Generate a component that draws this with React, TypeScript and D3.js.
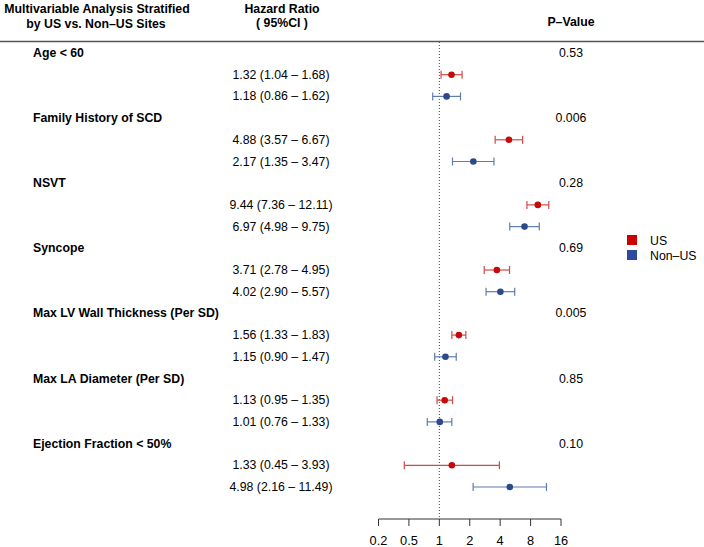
import React from "react";
import * as d3 from "d3";

const categories = [
  "Age < 60",
  "Family History of SCD",
  "NSVT",
  "Syncope",
  "Max LV Wall Thickness (Per SD)",
  "Max LA Diameter (Per SD)",
  "Ejection Fraction < 50%",
];
const pValues = ["0.53", "0.006", "0.28", "0.69", "0.005", "0.85", "0.10"];
const usHR = [1.32, 4.88, 9.44, 3.71, 1.56, 1.13, 1.33];
const usLow = [1.04, 3.57, 7.36, 2.78, 1.33, 0.95, 0.45];
const usHigh = [1.68, 6.67, 12.11, 4.95, 1.83, 1.35, 3.93];
const nonHR = [1.18, 2.17, 6.97, 4.02, 1.15, 1.01, 4.98];
const nonLow = [0.86, 1.35, 4.98, 2.9, 0.9, 0.76, 2.16];
const nonHigh = [1.62, 3.47, 9.75, 5.57, 1.47, 1.33, 11.49];
const tickValues = [0.25, 0.5, 1, 2, 4, 8, 16];
const tickLabels = ["0.2", "0.5", "1", "2", "4", "8", "16"];
const seriesNames = ["US", "Non\u2013US"];

const FONT = "'Liberation Sans', Arial, Helvetica, sans-serif";
const FS = 12.3;
const RED_PT = "#C40A0A";
const RED_LN = "#D24A4A";
const BLUE_PT = "#2C4A8A";
const BLUE_LN = "#5F7CAE";

const fmt = (v: number) => v.toFixed(2);

export default function App() {
  const W = 704;
  const H = 547;
  const x = d3.scaleLog().base(2).domain([0.25, 16]).range([378.5, 561]);
  const y = d3.scaleLinear().domain([0, 20]).range([53, 487]);
  const axisY = 519;
  const hrX = 281;
  const pX = 571;

  const rows: any[] = [];
  categories.forEach((c, i) => {
    rows.push({ type: "cat", label: c, p: pValues[i], r: 3 * i });
    rows.push({ type: "us", hr: usHR[i], lo: usLow[i], hi: usHigh[i], r: 3 * i + 1 });
    rows.push({ type: "non", hr: nonHR[i], lo: nonLow[i], hi: nonHigh[i], r: 3 * i + 2 });
  });

  return (
    <svg
      width={W}
      height={H}
      style={{ position: "absolute", left: 0, top: 0, background: "#fff" }}
      fontFamily={FONT}
    >
      {/* header */}
      <text x={97} y={13} fontSize={FS} fontWeight="bold" textAnchor="middle">
        Multivariable Analysis Stratified
      </text>
      <text x={96} y={28} fontSize={FS} fontWeight="bold" textAnchor="middle">
        by US vs. Non–US Sites
      </text>
      <text x={282} y={13} fontSize={FS} fontWeight="bold" textAnchor="middle">
        Hazard Ratio
      </text>
      <text x={282} y={27} fontSize={FS} fontWeight="bold" textAnchor="middle">
        ( 95%CI )
      </text>
      <text x={pX} y={26} fontSize={FS} fontWeight="bold" textAnchor="middle">
        P–Value
      </text>
      <line x1={0} x2={W} y1={41.5} y2={41.5} stroke="#555" strokeWidth={1.5} />

      {/* reference line */}
      <line
        x1={x(1)}
        x2={x(1)}
        y1={42}
        y2={axisY}
        stroke="#444"
        strokeWidth={1}
        strokeDasharray="1,2"
      />

      {rows.map((row, k) => {
        const cy = y(row.r);
        if (row.type === "cat") {
          return (
            <g key={k}>
              <text x={33} y={cy + 4} fontSize={FS} fontWeight="bold">
                {row.label}
              </text>
              <text x={pX} y={cy + 4} fontSize={FS} textAnchor="middle">
                {row.p}
              </text>
            </g>
          );
        }
        const ln = row.type === "us" ? RED_LN : BLUE_LN;
        const pt = row.type === "us" ? RED_PT : BLUE_PT;
        return (
          <g key={k}>
            <text x={hrX} y={cy + 4} fontSize={FS} textAnchor="middle">
              {`${fmt(row.hr)} (${fmt(row.lo)} – ${fmt(row.hi)})`}
            </text>
            <line x1={x(row.lo)} x2={x(row.hi)} y1={cy} y2={cy} stroke={ln} strokeWidth={1.2} />
            <line x1={x(row.lo)} x2={x(row.lo)} y1={cy - 4} y2={cy + 4} stroke={ln} strokeWidth={1.2} />
            <line x1={x(row.hi)} x2={x(row.hi)} y1={cy - 4} y2={cy + 4} stroke={ln} strokeWidth={1.2} />
            <circle cx={x(row.hr)} cy={cy} r={3.3} fill={pt} />
          </g>
        );
      })}

      {/* axis */}
      <line x1={x(0.25)} x2={x(16)} y1={axisY} y2={axisY} stroke="#333" strokeWidth={1} />
      {tickValues.map((t, i) => (
        <g key={t}>
          <line x1={x(t)} x2={x(t)} y1={axisY} y2={axisY + 7} stroke="#333" strokeWidth={1} />
          <text x={x(t)} y={axisY + 26} fontSize={12.8} textAnchor="middle">
            {tickLabels[i]}
          </text>
        </g>
      ))}

      {/* legend */}
      {seriesNames.map((s, i) => (
        <g key={s}>
          <rect x={627} y={235 + i * 15} width={10} height={10} fill={i === 0 ? "#CC0000" : "#2E4A9E"} />
          <text x={650} y={245 + i * 15} fontSize={FS}>
            {s}
          </text>
        </g>
      ))}
    </svg>
  );
}
